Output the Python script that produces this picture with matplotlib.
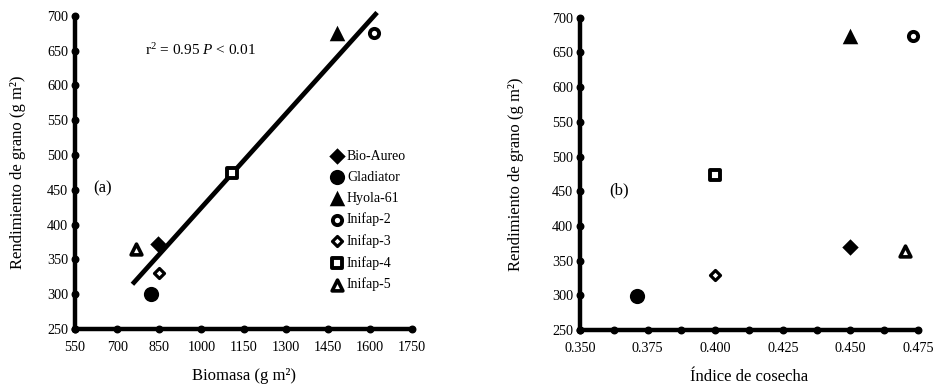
import matplotlib
matplotlib.use('Agg')
import matplotlib.pyplot as plt
import numpy as np

plt.rcParams['font.family'] = ['Liberation Serif', 'DejaVu Serif']
plt.rcParams['mathtext.fontset'] = 'custom'
plt.rcParams['mathtext.rm'] = 'Liberation Serif'
plt.rcParams['mathtext.it'] = 'Liberation Serif:italic'

# cultivars and their values
cultivars = ['Bio-Aureo', 'Gladiator', 'Hyola-61', 'Inifap-2', 'Inifap-3', 'Inifap-4', 'Inifap-5']
biomasa = [845, 822, 1484, 1615, 850, 1110, 767]
rendimiento_a = [372, 300, 675, 675, 330, 474, 365]
indice_cosecha = [0.450, 0.371, 0.450, 0.473, 0.400, 0.400, 0.470]
rendimiento_b = [370, 299, 674, 673, 329, 474, 364]
fit_range = [760, 1620]

# marker style per cultivar: (marker, filled, size, edge width)
styles = {
	'Bio-Aureo': ('D', True, 70, 0),
	'Gladiator': ('o', True, 120, 0),
	'Hyola-61': ('^', True, 125, 0),
	'Inifap-2': ('o', False, 44, 2.8),
	'Inifap-3': ('D', False, 26, 2.3),
	'Inifap-4': ('s', False, 46, 2.8),
	'Inifap-5': ('^', False, 60, 2.6),
}


def style_axes(ax, xlim, ylim, xticks, yticks, xminor=None):
	ax.set_xlim(*xlim)
	ax.set_ylim(*ylim)
	ax.set_xticks(xticks)
	ax.set_yticks(yticks)
	for s in ['top', 'right']:
		ax.spines[s].set_visible(False)
	for s in ['left', 'bottom']:
		ax.spines[s].set_linewidth(3.2)
		ax.spines[s].set_capstyle('round')
	ax.tick_params(length=0, labelsize=10.2)
	ax.tick_params(axis='x', pad=9)
	ax.tick_params(axis='y', pad=5)
	# round dot tick marks
	ax.plot(xticks, [ylim[0]] * len(xticks), 'o', color='black', ms=4.7, clip_on=False, zorder=5)
	ax.plot([xlim[0]] * len(yticks), yticks, 'o', color='black', ms=4.7, clip_on=False, zorder=5)
	if xminor is not None:
		ax.plot(xminor, [ylim[0]] * len(xminor), 'o', color='black', ms=4.7, clip_on=False, zorder=5)


def draw_points(ax, xs, ys):
	for name, x, y in zip(cultivars, xs, ys):
		m, filled, s, lw = styles[name]
		ax.scatter(x, y, marker=m, s=s, facecolor='black' if filled else 'white',
				   edgecolor='black', linewidths=lw, label=name,
				   clip_on=False, zorder=6)


fig = plt.figure(figsize=(9.33, 3.85), dpi=100)
ax1 = fig.add_axes([0.0804, 0.1455, 0.3612, 0.8137])
ax2 = fig.add_axes([0.6217, 0.1429, 0.3623, 0.811])

# (a) biomass vs yield
yticks = np.arange(250, 701, 50)
style_axes(ax1, (550, 1750), (250, 700), np.arange(550, 1751, 150), yticks)
slope, intercept = np.polyfit(biomasa, rendimiento_a, 1)
xf = np.array(fit_range)
ax1.plot(xf, slope * xf + intercept, color='black', lw=3.4, zorder=4, clip_on=False)
draw_points(ax1, biomasa, rendimiento_a)
ax1.set_xlabel('Biomasa (g m²)', fontsize=12, labelpad=10)
ax1.set_ylabel('Rendimiento de grano (g m²)', fontsize=12, labelpad=15)
ax1.text(0.208, 0.89, r'r$^2$ = 0.95 $P$ < 0.01', transform=ax1.transAxes,
		 fontsize=11, va='center', ha='left')
ax1.text(0.053, 0.45, '(a)', transform=ax1.transAxes, fontsize=12, va='center')
ax1.legend(loc='upper left', bbox_to_anchor=(0.735, 0.59), frameon=False, fontsize=10,
		   handletextpad=0.15, labelspacing=0.57, borderaxespad=0, handlelength=1.2,
		   scatterpoints=1)

# (b) harvest index vs yield
xt2 = np.arange(0.350, 0.4751, 0.025)
style_axes(ax2, (0.350, 0.475), (250, 700), xt2, yticks,
		   xminor=np.arange(0.3625, 0.475, 0.025))
ax2.set_xticklabels(['%.3f' % v for v in xt2])
draw_points(ax2, indice_cosecha, rendimiento_b)
ax2.set_xlabel('Índice de cosecha', fontsize=12, labelpad=10)
ax2.set_ylabel('Rendimiento de grano (g m²)', fontsize=12, labelpad=20)
ax2.text(0.086, 0.446, '(b)', transform=ax2.transAxes, fontsize=12, va='center')

fig.savefig('out.png', dpi=100)
